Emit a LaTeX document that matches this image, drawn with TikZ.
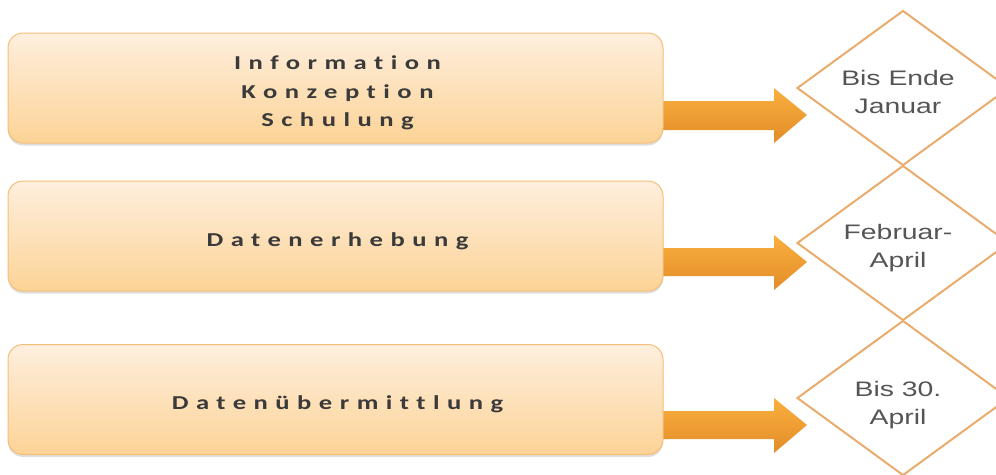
\documentclass[tikz,border=0pt]{standalone}
\usepackage{fontspec}
\setmainfont{Liberation Sans}[FakeStretch=1.35]
\newfontfamily\spacedfont{Carlito}[LetterSpace=38,FakeStretch=1.35,Ligatures={NoCommon}]
\usetikzlibrary{shapes.geometric,shadows,shadings}

\definecolor{boxtop}{RGB}{254,239,222}
\definecolor{boxbot}{RGB}{252,211,150}
\definecolor{boxline}{RGB}{245,190,120}
\definecolor{arrowtop}{RGB}{250,176,62}
\definecolor{arrowbot}{RGB}{226,140,40}
\definecolor{dateline}{RGB}{234,172,108}
\definecolor{datetext}{RGB}{85,85,85}
\definecolor{steptext}{RGB}{58,58,58}

\tikzset{
  stepbox/.style={rectangle, rounded corners=15pt, draw=boxline, line width=1pt,
    top color=boxtop, bottom color=boxbot,
    drop shadow={opacity=0.25, shadow xshift=0pt, shadow yshift=-2.5pt},
    minimum width=655pt, minimum height=110pt, inner sep=0pt},
  steplabel/.style={align=center, text=steptext, inner sep=0pt,
    font=\spacedfont\bfseries\fontsize{19.7}{28.5}\selectfont},
  datebox/.style={diamond, draw=dateline, line width=2pt, fill=white,
    minimum width=212pt, minimum height=155pt, inner sep=0pt},
  datelabel/.style={align=center, text=datetext, inner sep=0pt,
    font=\fontsize{21}{28}\selectfont},
  flowarrow/.style={top color=arrowtop, bottom color=arrowbot, draw=none}
}

\begin{document}
\begin{tikzpicture}[x=1pt,y=-1pt]
  \useasboundingbox (0,0) rectangle (996,474);
  \clip (0,0) rectangle (996,474);

  % date diamonds, stacked so that their vertices touch
  \node[datebox] (d1) at (903,88) {};
  \node[datebox] (d2) at (903,243) {};
  \node[datebox] (d3) at (903,398) {};
  \node[datelabel] (t1) at ([xshift=-5pt,yshift=-4pt]d1.center) {Bis Ende\\Januar};
  \node[datelabel] (t2) at ([xshift=-5pt,yshift=-5pt]d2.center) {Februar-\\April};
  \node[datelabel] (t3) at ([xshift=-5pt,yshift=-7pt]d3.center) {Bis 30.\\April};

  % block arrows from each step to its deadline
  \path[flowarrow] (660,101) -- (774,101) -- (774,88) -- (807,115)
    -- (774,143) -- (774,130) -- (660,130) -- cycle;
  \path[flowarrow] (660,248) -- (774,248) -- (774,235) -- (807,262)
    -- (774,290) -- (774,276) -- (660,276) -- cycle;
  \path[flowarrow] (660,411) -- (774,411) -- (774,398) -- (807,425)
    -- (774,453) -- (774,439) -- (660,439) -- cycle;

  % process steps
  \node[stepbox] (s1) at (335.5,88) {};
  \node[stepbox] (s2) at (335.5,236) {};
  \node[stepbox] (s3) at (335.5,399.5) {};
  \node[steplabel] (l1) at ([xshift=2pt,yshift=-5pt]s1.center) {Information\\Konzeption\\Schulung};
  \node[steplabel] (l2) at ([xshift=2pt,yshift=-5pt]s2.center) {Datenerhebung};
  \node[steplabel] (l3) at ([xshift=2pt,yshift=-5pt]s3.center) {Datenübermittlung};
\end{tikzpicture}
\end{document}
